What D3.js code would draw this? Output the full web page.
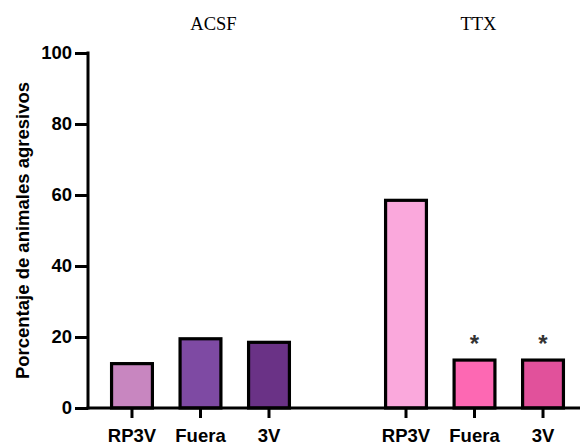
<!DOCTYPE html>
<html>
<head>
<meta charset="utf-8">
<script src="https://cdn.jsdelivr.net/npm/d3@7"></script>
<style>
  html, body { margin: 0; padding: 0; background: #fff; }
  svg { display: block; }
</style>
</head>
<body>
<svg id="chart" width="580" height="445"></svg>
<script>
// Treatment groups and regions
const groups = ["ACSF", "TTX"];
const regions = ["RP3V", "Fuera", "3V"];
// Percentage of aggressive animals per group/region
const acsfValues = [12.5, 19.5, 18.5];
const ttxValues = [58.5, 13.5, 13.5];
// Significance marks per TTX bar
const ttxMarks = ["", "*", "*"];
const yTicks = [0, 20, 40, 60, 80, 100];

const acsfColors = ["#c886c0", "#7e4aa3", "#6a3286"];
const ttxColors = ["#faa8dc", "#fd68b3", "#e1519b"];

const bars = [];
regions.forEach((r, i) => bars.push({ key: "ACSF-" + r, label: r, group: "ACSF", value: acsfValues[i], color: acsfColors[i], mark: "" }));
regions.forEach((r, i) => bars.push({ key: "TTX-" + r, label: r, group: "TTX", value: ttxValues[i], color: ttxColors[i], mark: ttxMarks[i] }));

// slot layout: three ACSF bars, an empty slot, three TTX bars
const slots = [...bars.slice(0, 3).map(d => d.key), "gap", ...bars.slice(3).map(d => d.key)];

const svg = d3.select("#chart");
const axisX0 = 88, axisX1 = 580;
const sans = "Liberation Sans, Arial, Helvetica, sans-serif";

const x = d3.scaleBand().domain(slots).range([85.4, 589.6]).padding(0.36);
const y = d3.scaleLinear().domain([0, 100]).range([408, 53]);

// bars
svg.append("g").selectAll("rect").data(bars).join("rect")
  .attr("x", d => x(d.key) + 1.5)
  .attr("y", d => y(d.value))
  .attr("width", x.bandwidth() - 3)
  .attr("height", d => y(0) - y(d.value))
  .attr("fill", d => d.color)
  .attr("stroke", "#000")
  .attr("stroke-width", 3.2);

// significance marks
svg.append("g").selectAll("text").data(bars.filter(d => d.mark)).join("text")
  .attr("x", d => x(d.key) + x.bandwidth() / 2)
  .attr("y", d => y(d.value) - 8)
  .attr("text-anchor", "middle")
  .attr("font-family", sans)
  .attr("font-weight", "bold")
  .attr("font-size", 24)
  .attr("fill", "#333")
  .text(d => d.mark);

// y axis
const yAxis = svg.append("g")
  .attr("transform", `translate(${axisX0},0)`)
  .call(d3.axisLeft(y).tickValues(yTicks).tickSize(13).tickPadding(3).tickFormat(d3.format("d")));
yAxis.select(".domain").remove();
yAxis.selectAll(".tick line").attr("stroke", "#000").attr("stroke-width", 3);
yAxis.selectAll(".tick text")
  .attr("font-family", sans)
  .attr("font-weight", "bold").attr("font-size", 18.5).attr("fill", "#000");
yAxis.append("line")
  .attr("x1", 0).attr("x2", 0).attr("y1", y(100) - 1.5).attr("y2", y(0) + 1.5)
  .attr("stroke", "#000").attr("stroke-width", 3);

// x axis
const xAxis = svg.append("g")
  .attr("transform", `translate(0,${y(0)})`)
  .call(d3.axisBottom(x).tickValues(bars.map(d => d.key)).tickSize(10).tickPadding(11)
    .tickFormat(k => bars.find(b => b.key === k).label));
xAxis.select(".domain").remove();
xAxis.selectAll(".tick line").attr("stroke", "#000").attr("stroke-width", 3);
xAxis.selectAll(".tick text")
  .attr("font-family", sans)
  .attr("font-weight", "bold").attr("font-size", 18.5).attr("fill", "#000");
xAxis.append("line")
  .attr("x1", axisX0 - 1.5).attr("x2", axisX1).attr("y1", 0).attr("y2", 0)
  .attr("stroke", "#000").attr("stroke-width", 3);

// group headers, nudged right of the group centre
const headerShift = { ACSF: 13, TTX: 4 };
groups.forEach(g => {
  const gb = bars.filter(d => d.group === g);
  const cx = (x(gb[0].key) + x(gb[gb.length - 1].key) + x.bandwidth()) / 2;
  svg.append("text")
    .attr("x", cx + headerShift[g]).attr("y", 30)
    .attr("text-anchor", "middle")
    .attr("font-family", "Liberation Serif, Times New Roman, serif")
    .attr("font-size", 18.5).attr("fill", "#000")
    .text(g);
});

// y axis title
svg.append("text")
  .attr("transform", `translate(29,${(y(0) + y(100)) / 2}) rotate(-90)`)
  .attr("text-anchor", "middle")
  .attr("font-family", sans)
  .attr("font-weight", "bold").attr("font-size", 18.5).attr("fill", "#000")
  .text("Porcentaje de animales agresivos");
</script>
</body>
</html>
